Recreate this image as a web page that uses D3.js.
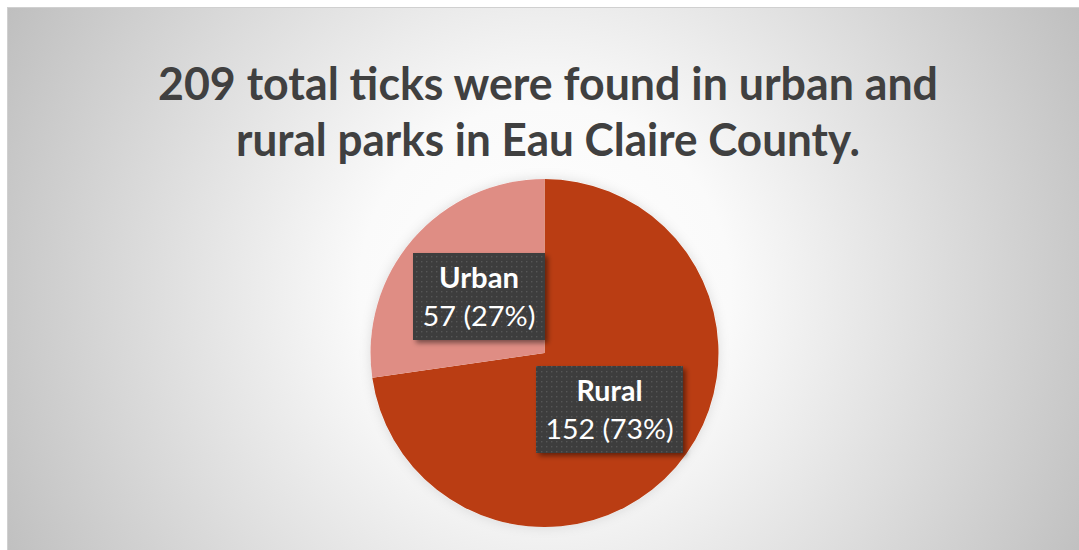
<!DOCTYPE html>
<html><head><meta charset="utf-8">
<script src="https://cdn.jsdelivr.net/npm/d3@7/dist/d3.min.js"></script>
<style>html,body{margin:0;padding:0;background:#fff;overflow:hidden}</style>
</head><body><svg id="c" width="1079" height="550"></svg>
<script>
const categories = ["Rural", "Urban"];
const values = [152, 57];
const percents = ["73%", "27%"];
const colors = ["#BA3D13", "#DF8D84"];
const titleLines = ["209 total ticks were found in urban and", "rural parks in Eau Claire County."];

const svg = d3.select("#c");
const defs = svg.append("defs");
const rg = defs.append("radialGradient").attr("id","bg").attr("gradientUnits","userSpaceOnUse")
  .attr("cx",545).attr("cy",290).attr("r",620);
rg.append("stop").attr("offset","0").attr("stop-color","#ffffff");
rg.append("stop").attr("offset","0.3").attr("stop-color","#fafafa");
rg.append("stop").attr("offset","1").attr("stop-color","#bdbdbd");

const pat = defs.append("pattern").attr("id","dots").attr("patternUnits","userSpaceOnUse")
  .attr("width",5).attr("height",5);
pat.append("rect").attr("width",5).attr("height",5).attr("fill","#3c3c3c");
pat.append("rect").attr("x",1).attr("y",1).attr("width",1.4).attr("height",1.4).attr("fill","#565656");

const sh = defs.append("filter").attr("id","sh").attr("x","-20%").attr("y","-20%").attr("width","150%").attr("height","150%");
sh.append("feDropShadow").attr("dx",3).attr("dy",3).attr("stdDeviation",2.5).attr("flood-color","#000").attr("flood-opacity",0.45);
const glow = defs.append("filter").attr("id","glow").attr("x","-20%").attr("y","-20%").attr("width","140%").attr("height","140%");
glow.append("feDropShadow").attr("dx",0).attr("dy",0).attr("stdDeviation",6).attr("flood-color","#000").attr("flood-opacity",0.12);

svg.append("rect").attr("x",7.5).attr("y",7.5).attr("width",1080).attr("height",550)
  .attr("fill","url(#bg)").attr("stroke","#d0d0d0").attr("stroke-width",1);

// title
const title = svg.append("g");
const titleY = [100, 156];
const titleW = [780, 624];
titleLines.forEach((t,i)=>{
  title.append("text").attr("x",548).attr("y",titleY[i]).attr("text-anchor","middle")
    .attr("font-family","Lato, 'Open Sans', sans-serif").attr("font-weight","bold")
    .attr("font-size",45).attr("fill","#404040")
    .attr("textLength",titleW[i]).attr("lengthAdjust","spacingAndGlyphs").text(t);
});

// pie
const cx = 544.5, cy = 353, R = 174;
const pie = d3.pie().sort(null).value(d=>d.v);
const data = pie(categories.map((c,i)=>({c, v: values[i], p: percents[i], col: colors[i]})));
const arc = d3.arc().innerRadius(0).outerRadius(R);
const g = svg.append("g").attr("transform",`translate(${cx},${cy})`);
g.append("circle").attr("r",R).attr("fill","#fff").attr("filter","url(#glow)");
g.selectAll("path.s").data(data).join("path").attr("class","s")
  .attr("d",arc).attr("fill",d=>d.data.col);

// labels
const boxes = {
  Rural: {x: 536, y: 366, w: 147, h: 87, w1: 66, w2: 128},
  Urban: {x: 413, y: 253, w: 132, h: 87, w1: 80, w2: 113}
};
data.forEach(d=>{
  const b = boxes[d.data.c];
  const lg = svg.append("g");
  lg.append("rect").attr("x",b.x).attr("y",b.y).attr("width",b.w).attr("height",b.h)
    .attr("fill","url(#dots)").attr("filter","url(#sh)");
  const mx = b.x + b.w/2;
  lg.append("text").attr("x",mx).attr("y",b.y+35).attr("text-anchor","middle")
    .attr("font-family","Lato, 'Open Sans', sans-serif").attr("font-weight","bold")
    .attr("font-size",28).attr("fill","#fff")
    .attr("textLength",b.w1).attr("lengthAdjust","spacingAndGlyphs").text(d.data.c);
  lg.append("text").attr("x",mx).attr("y",b.y+73).attr("text-anchor","middle")
    .attr("font-family","Lato, 'Open Sans', sans-serif")
    .attr("font-size",27).attr("fill","#fff")
    .attr("textLength",b.w2).attr("lengthAdjust","spacingAndGlyphs")
    .text(`${d.data.v} (${d.data.p})`);
});
</script></body></html>
